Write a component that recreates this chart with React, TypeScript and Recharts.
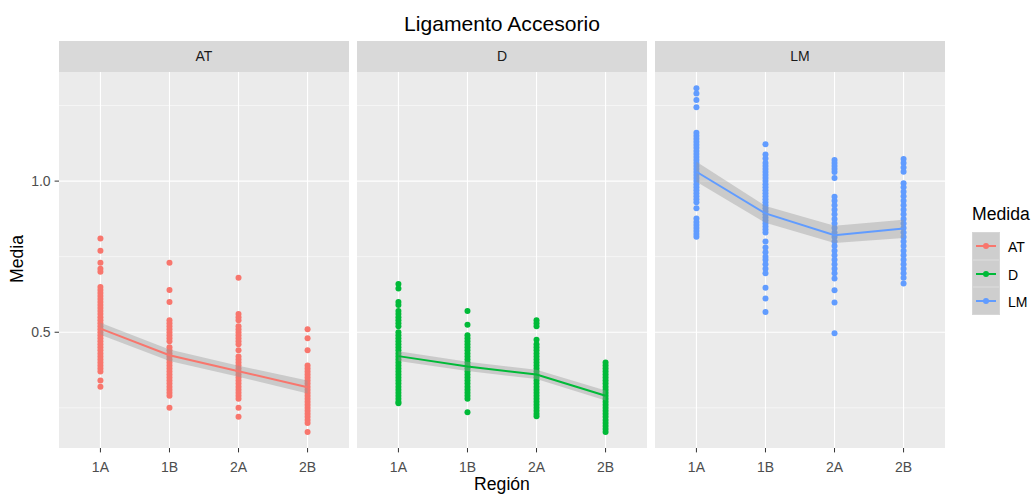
import { ComposedChart, Scatter, Line, Area, XAxis, YAxis, CartesianGrid } from 'recharts';

const REGIONS = ['1A', '1B', '2A', '2B'];
const MEDIDAS = ['AT', 'D', 'LM'];
const COLORS: Record<string, string> = { AT: '#F8766D', D: '#00BA38', LM: '#619CFF' };

// raw points per region
const AT_1A = [0.81, 0.77, 0.73, 0.71, 0.70, 0.65, 0.64, 0.63, 0.62, 0.61, 0.60, 0.59, 0.58, 0.57, 0.56, 0.55, 0.54, 0.53, 0.52, 0.51, 0.50, 0.49, 0.48, 0.47, 0.46, 0.45, 0.44, 0.43, 0.42, 0.41, 0.40, 0.39, 0.38, 0.37, 0.34, 0.32];
const AT_1B = [0.73, 0.64, 0.60, 0.54, 0.53, 0.52, 0.51, 0.50, 0.49, 0.48, 0.47, 0.45, 0.44, 0.43, 0.42, 0.41, 0.40, 0.39, 0.38, 0.37, 0.36, 0.35, 0.34, 0.33, 0.32, 0.31, 0.30, 0.29, 0.25];
const AT_2A = [0.68, 0.56, 0.55, 0.54, 0.52, 0.51, 0.50, 0.49, 0.48, 0.47, 0.46, 0.44, 0.42, 0.41, 0.40, 0.39, 0.38, 0.37, 0.36, 0.35, 0.34, 0.33, 0.32, 0.31, 0.30, 0.29, 0.28, 0.25, 0.22];
const AT_2B = [0.51, 0.48, 0.44, 0.39, 0.38, 0.37, 0.36, 0.35, 0.34, 0.33, 0.32, 0.31, 0.30, 0.29, 0.28, 0.27, 0.26, 0.25, 0.24, 0.23, 0.22, 0.21, 0.20, 0.17];

const D_1A = [0.66, 0.645, 0.60, 0.59, 0.57, 0.56, 0.55, 0.54, 0.53, 0.52, 0.50, 0.49, 0.48, 0.47, 0.46, 0.45, 0.44, 0.43, 0.42, 0.41, 0.40, 0.39, 0.38, 0.37, 0.36, 0.35, 0.34, 0.33, 0.32, 0.31, 0.30, 0.29, 0.28, 0.27, 0.265];
const D_1B = [0.57, 0.525, 0.49, 0.48, 0.47, 0.46, 0.45, 0.44, 0.43, 0.42, 0.41, 0.40, 0.39, 0.38, 0.37, 0.36, 0.35, 0.34, 0.33, 0.32, 0.31, 0.30, 0.29, 0.28, 0.235];
const D_2A = [0.54, 0.53, 0.52, 0.475, 0.46, 0.45, 0.44, 0.43, 0.42, 0.41, 0.40, 0.39, 0.38, 0.37, 0.36, 0.35, 0.34, 0.33, 0.32, 0.31, 0.30, 0.29, 0.28, 0.27, 0.26, 0.25, 0.24, 0.23, 0.222];
const D_2B = [0.40, 0.39, 0.38, 0.37, 0.36, 0.35, 0.34, 0.33, 0.32, 0.31, 0.30, 0.29, 0.28, 0.27, 0.26, 0.25, 0.24, 0.23, 0.22, 0.21, 0.20, 0.19, 0.18, 0.17];

const LM_1A = [1.307, 1.29, 1.268, 1.244, 1.16, 1.15, 1.14, 1.13, 1.12, 1.11, 1.10, 1.09, 1.08, 1.07, 1.06, 1.05, 1.04, 1.03, 1.02, 1.01, 1.00, 0.99, 0.98, 0.97, 0.96, 0.95, 0.94, 0.93, 0.91, 0.876, 0.865, 0.855, 0.845, 0.835, 0.825, 0.816];
const LM_1B = [1.122, 1.088, 1.075, 1.06, 1.05, 1.04, 1.03, 1.02, 1.01, 1.00, 0.99, 0.98, 0.97, 0.96, 0.95, 0.94, 0.93, 0.92, 0.91, 0.90, 0.89, 0.88, 0.87, 0.86, 0.85, 0.84, 0.83, 0.80, 0.78, 0.765, 0.75, 0.74, 0.725, 0.71, 0.695, 0.647, 0.612, 0.567];
const LM_2A = [1.07, 1.06, 1.05, 1.04, 1.03, 1.01, 0.948, 0.935, 0.92, 0.905, 0.89, 0.875, 0.86, 0.845, 0.83, 0.815, 0.80, 0.785, 0.77, 0.755, 0.74, 0.725, 0.71, 0.695, 0.678, 0.639, 0.598, 0.497];
const LM_2B = [1.073, 1.06, 1.045, 1.031, 0.993, 0.98, 0.965, 0.95, 0.935, 0.92, 0.905, 0.89, 0.875, 0.86, 0.845, 0.83, 0.815, 0.80, 0.785, 0.77, 0.755, 0.74, 0.725, 0.71, 0.695, 0.68, 0.661];

// smooth line means and ribbon bounds
const AT_MEAN = [0.512, 0.424, 0.371, 0.318];
const AT_LOW = [0.492, 0.405, 0.353, 0.297];
const AT_HIGH = [0.531, 0.443, 0.389, 0.340];
const D_MEAN = [0.421, 0.387, 0.360, 0.290];
const D_LOW = [0.405, 0.372, 0.345, 0.274];
const D_HIGH = [0.437, 0.402, 0.376, 0.307];
const LM_MEAN = [1.031, 0.893, 0.821, 0.843];
const LM_LOW = [0.998, 0.862, 0.795, 0.812];
const LM_HIGH = [1.064, 0.918, 0.852, 0.872];

const POINTS: Record<string, number[][]> = {
  AT: [AT_1A, AT_1B, AT_2A, AT_2B],
  D: [D_1A, D_1B, D_2A, D_2B],
  LM: [LM_1A, LM_1B, LM_2A, LM_2B],
};
const SMOOTH: Record<string, number[][]> = {
  AT: [AT_MEAN, AT_LOW, AT_HIGH],
  D: [D_MEAN, D_LOW, D_HIGH],
  LM: [LM_MEAN, LM_LOW, LM_HIGH],
};

const Y_DOMAIN = [0.117, 1.361];
const PANEL_LEFT = [59, 357, 655];
const PANEL_W = 290;
const PANEL_TOP = 72;
const PANEL_H = 376;
const STRIP_TOP = 41;
const Y_AXIS_W = 59;
const FONT = '"Liberation Sans", Arial, Helvetica, sans-serif';
const SMALL = 14;
const MID = 17.6;

function Panel({ medida, index }: { medida: string; index: number }) {
  const color = COLORS[medida];
  const [mean, low, high] = SMOOTH[medida];
  const pts = POINTS[medida].flatMap((vals, i) => vals.map((y) => ({ x: i + 1, y })));
  const line = REGIONS.map((r, i) => ({ x: i + 1, region: r, y: mean[i], band: [low[i], high[i]] }));
  const first = index === 0;
  const left = first ? 0 : PANEL_LEFT[index];
  const width = first ? Y_AXIS_W + PANEL_W : PANEL_W;

  return (
    <div style={{ position: 'absolute', left, top: PANEL_TOP }}>
      <ComposedChart width={width} height={PANEL_H + 34} data={line} margin={{ top: 0, right: 0, bottom: 0, left: 0 }}>
        <CartesianGrid
          fill="#EBEBEB"
          stroke="#FFFFFF"
          strokeWidth={0.55}
          horizontalValues={[0.25, 0.75, 1.25]}
          vertical={false}
        />
        <CartesianGrid
          stroke="#FFFFFF"
          strokeWidth={1.1}
          horizontalValues={[0.5, 1.0]}
          verticalValues={[1, 2, 3, 4]}
        />
        <XAxis
          type="number"
          dataKey="x"
          domain={[0.4, 4.6]}
          ticks={[1, 2, 3, 4]}
          allowDataOverflow
          tickFormatter={(v: number) => REGIONS[v - 1]}
          axisLine={false}
          tickLine={{ stroke: '#333333' }}
          tickSize={4.4}
          tickMargin={9.5}
          height={34}
          tick={{ fill: '#4D4D4D', fontSize: SMALL, fontFamily: FONT }}
        />
        <YAxis
          type="number"
          dataKey="y"
          hide={!first}
          domain={Y_DOMAIN}
          ticks={[0.5, 1.0]}
          allowDataOverflow
          tickFormatter={(v: number) => v.toFixed(1)}
          axisLine={false}
          tickLine={{ stroke: '#333333' }}
          tickSize={4.4}
          tickMargin={4}
          width={Y_AXIS_W}
          tick={{ fill: '#4D4D4D', fontSize: SMALL, fontFamily: FONT }}
        />
        <Scatter
          data={pts}
          dataKey="y"
          isAnimationActive={false}
          zIndex={50}
          shape={(p: any) => <circle cx={p.cx} cy={p.cy} r={3} fill={color} />}
        />
        <Area
          dataKey="band"
          type="linear"
          fill="#999999"
          fillOpacity={0.4}
          stroke="none"
          isAnimationActive={false}
          zIndex={100}
        />
        <Line
          dataKey="y"
          type="linear"
          stroke={color}
          strokeWidth={2}
          dot={false}
          activeDot={false}
          isAnimationActive={false}
          zIndex={400}
        />
      </ComposedChart>
    </div>
  );
}

export default function App() {
  return (
    <div style={{ position: 'fixed', left: 0, top: 0, width: 1031, height: 496, background: '#FFFFFF', fontFamily: FONT, overflow: 'hidden' }}>
      <div style={{ position: 'absolute', left: 59, width: 886, top: 13, lineHeight: '21px', textAlign: 'center', fontSize: 21.1, color: '#000' }}>
        Ligamento Accesorio
      </div>

      {MEDIDAS.map((m, i) => (
        <div
          key={m}
          style={{
            position: 'absolute',
            left: PANEL_LEFT[i],
            top: STRIP_TOP,
            width: PANEL_W,
            height: PANEL_TOP - STRIP_TOP,
            background: '#D9D9D9',
            color: '#1A1A1A',
            fontSize: SMALL,
            lineHeight: `${PANEL_TOP - STRIP_TOP}px`,
            textAlign: 'center',
          }}
        >
          {m}
        </div>
      ))}

      {MEDIDAS.map((m, i) => (
        <Panel key={m} medida={m} index={i} />
      ))}

      <div
        style={{
          position: 'absolute',
          left: 17.5,
          top: 259,
          transform: 'translate(-50%, -50%) rotate(-90deg)',
          fontSize: MID,
          lineHeight: `${MID}px`,
          color: '#000',
          whiteSpace: 'nowrap',
        }}
      >
        Media
      </div>
      <div style={{ position: 'absolute', left: 59, width: 886, top: 476, lineHeight: `${MID}px`, textAlign: 'center', fontSize: MID, color: '#000' }}>
        Región
      </div>

      <div style={{ position: 'absolute', left: 972, top: 206, lineHeight: `${MID}px`, fontSize: MID, color: '#000' }}>Medida</div>
      {MEDIDAS.map((m, i) => (
        <div key={m}>
          <div
            style={{
              position: 'absolute',
              left: 972,
              top: 232 + i * 27.7,
              width: 28,
              height: 27.7,
              background: '#CECECE',
              boxSizing: 'border-box',
              border: '1px solid #D6D6D6',
            }}
          >
            <div style={{ position: 'absolute', left: 3, right: 3, top: 12, height: 2, background: COLORS[m] }} />
            <div style={{ position: 'absolute', left: 10, top: 10, width: 6, height: 6, borderRadius: 3, background: COLORS[m] }} />
          </div>
          <div style={{ position: 'absolute', left: 1008, top: 232 + i * 27.7 + 8, lineHeight: `${SMALL}px`, fontSize: SMALL, color: '#000' }}>{m}</div>
        </div>
      ))}
    </div>
  );
}
